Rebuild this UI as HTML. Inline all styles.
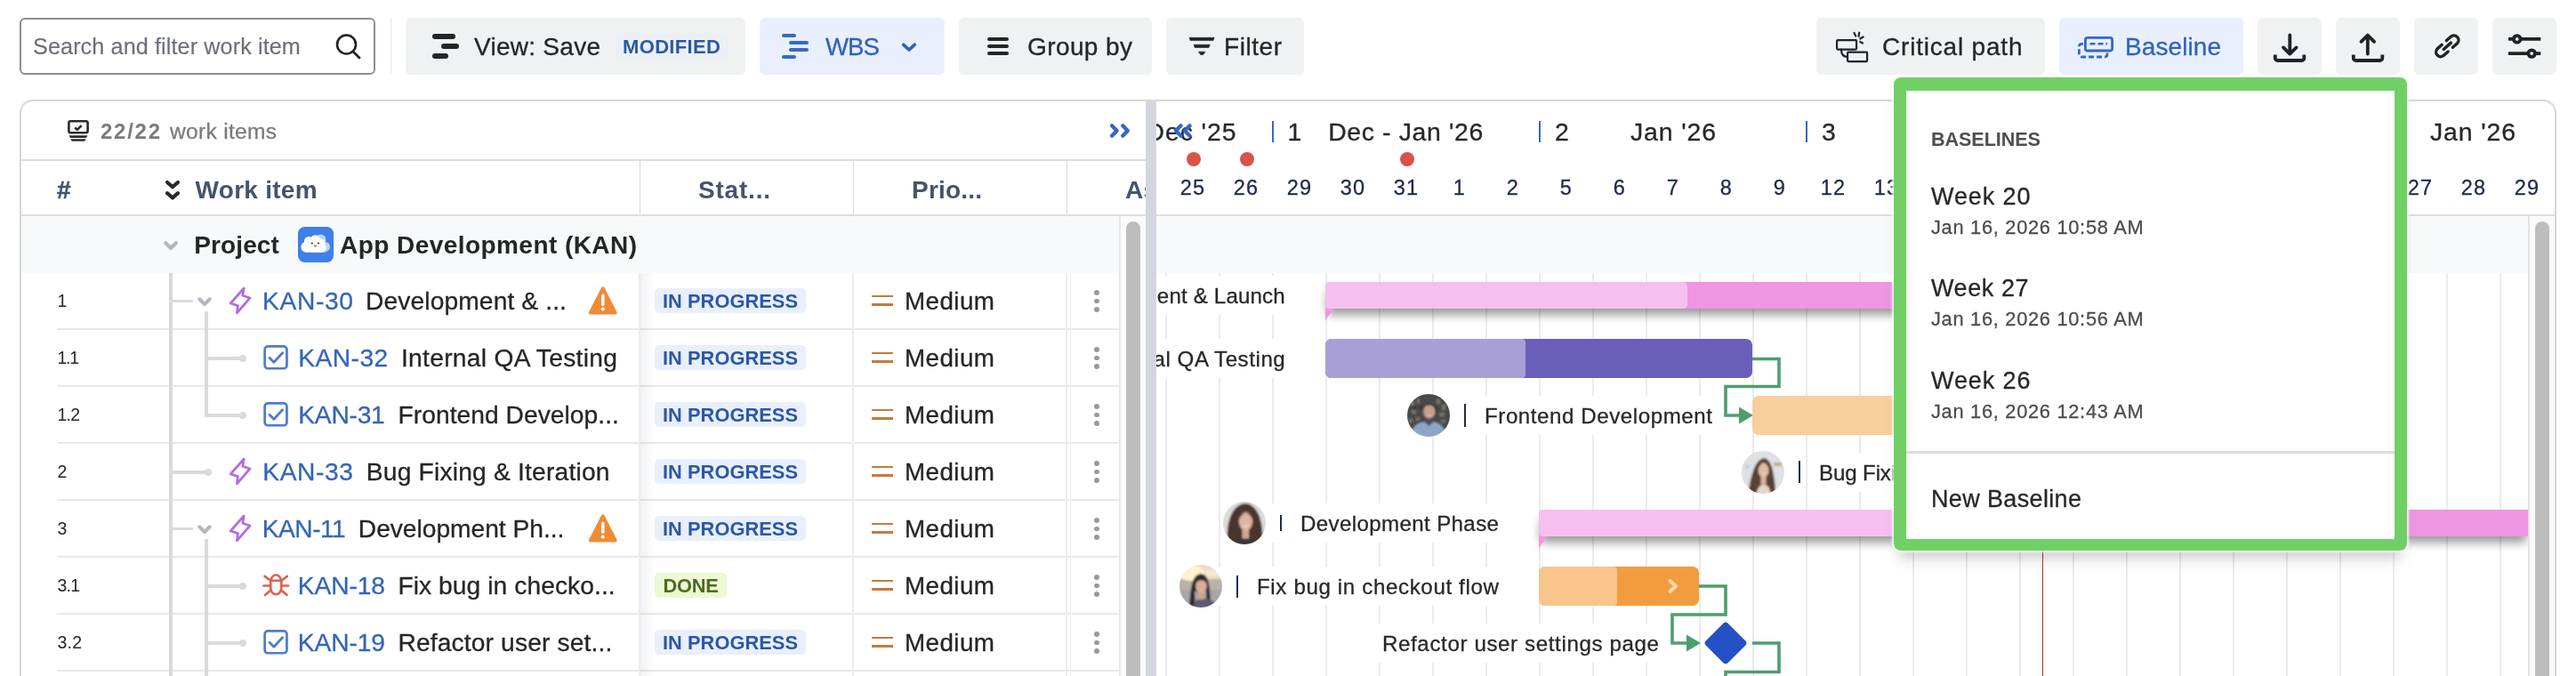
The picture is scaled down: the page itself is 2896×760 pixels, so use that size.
<!DOCTYPE html>
<html><head><meta charset="utf-8"><title>Gantt</title>
<style>
html,body{margin:0;padding:0;background:#fff;}
body{width:2896px;height:760px;overflow:hidden;position:relative;font-family:"Liberation Sans",sans-serif;}
.t{position:absolute;white-space:nowrap;line-height:1;-webkit-text-stroke:0.3px currentColor;}
.r{position:absolute;box-sizing:content-box;}
.a{position:absolute;overflow:visible;}
</style></head><body><div id="root" style="position:absolute;left:0;top:0;width:2896px;height:760px;overflow:hidden;will-change:transform;transform:translateZ(0)">
<div class="r" style="left:22px;top:20px;width:396px;height:59.5px;background:#fff;border:2px solid #8a8d94;border-radius:6px;"></div>
<span class="t" style="left:37.00px;top:38px;line-height:28px;font-size:25.2px;color:#6d7078;letter-spacing:0.103px;-webkit-text-stroke:0.15px #6d7078;">Search and filter work item</span>
<svg class="a" style="left:372px;top:34px" width="40" height="36" viewBox="0 0 40 36"><circle cx="17.5" cy="16" r="10.5" fill="none" stroke="#1f2328" stroke-width="2.6"/><path d="M25 24 L32 31" stroke="#1f2328" stroke-width="2.8" stroke-linecap="round"/></svg>
<div class="r" style="left:438.5px;top:20px;width:1.5px;height:64px;background:#e4e5e7;"></div>
<div class="r" style="left:456px;top:20px;width:382px;height:63.5px;background:#eff1f3;border-radius:6px;"></div>
<div class="r" style="left:486px;top:38px;width:26px;height:6px;background:#24262a;border-radius:3px;"></div>
<div class="r" style="left:496px;top:49px;width:20px;height:6px;background:#24262a;border-radius:3px;"></div>
<div class="r" style="left:486px;top:60px;width:18px;height:6px;background:#24262a;border-radius:3px;"></div>
<span class="t" style="left:533.00px;top:37px;line-height:31px;font-size:28px;color:#24262a;letter-spacing:0.272px;">View: Save</span>
<div class="r" style="left:691px;top:38px;width:128px;height:28px;background:#ebf0f8;border-radius:4px;"></div>
<span class="t" style="left:700.00px;top:40px;line-height:25px;font-size:22px;color:#2b57a8;letter-spacing:0.349px;font-weight:bold;-webkit-text-stroke:0;">MODIFIED</span>
<div class="r" style="left:854px;top:20px;width:208px;height:63.5px;background:#e9effc;border-radius:6px;"></div>
<div class="r" style="left:879px;top:38px;width:16px;height:3.9px;background:#3468cb;border-radius:2px;"></div>
<div class="r" style="left:887px;top:46px;width:22px;height:3.9px;background:#3468cb;border-radius:2px;"></div>
<div class="r" style="left:887px;top:54px;width:22px;height:3.9px;background:#3468cb;border-radius:2px;"></div>
<div class="r" style="left:879px;top:62px;width:16px;height:3.9px;background:#3468cb;border-radius:2px;"></div>
<span class="t" style="left:928.00px;top:37px;line-height:31px;font-size:27.6px;color:#2f62c0;letter-spacing:-0.936px;">WBS</span>
<svg class="a" style="left:1010px;top:44px" width="24" height="18" viewBox="0 0 24 18"><path d="M5.8 6.3 L12 12 L18.2 6.3" fill="none" stroke="#2f62c0" stroke-width="3.7" stroke-linecap="round" stroke-linejoin="round"/></svg>
<div class="r" style="left:1078px;top:20px;width:217px;height:63.5px;background:#eff1f3;border-radius:6px;"></div>
<div class="r" style="left:1110px;top:42px;width:24px;height:4.2px;background:#24262a;border-radius:2.1px;"></div>
<div class="r" style="left:1110px;top:50px;width:24px;height:4.2px;background:#24262a;border-radius:2.1px;"></div>
<div class="r" style="left:1110px;top:58px;width:24px;height:4.2px;background:#24262a;border-radius:2.1px;"></div>
<span class="t" style="left:1155.00px;top:37px;line-height:31px;font-size:28px;color:#24262a;letter-spacing:0.405px;">Group by</span>
<div class="r" style="left:1311px;top:20px;width:155px;height:63.5px;background:#eff1f3;border-radius:6px;"></div>
<svg class="a" style="left:1335px;top:40px" width="32" height="24" viewBox="0 0 32 24"><path d="M2 2.300 H30.200 L29 5.600 H3.200 Z M7 10.200 H25.200 L24 13.500 H8.200 Z M12.300 18.200 H20 L17.500 21.600 H14.800 Z" fill="#1f2328" stroke="#1f2328" stroke-width="0.6" stroke-linejoin="round"/></svg>
<span class="t" style="left:1376.00px;top:37px;line-height:31px;font-size:28px;color:#24262a;letter-spacing:0.557px;">Filter</span>
<div class="r" style="left:2042px;top:20px;width:257px;height:63.5px;background:#eff1f3;border-radius:6px;"></div>
<svg class="a" style="left:2060px;top:34px" width="44" height="40" viewBox="0 0 44 40">
<g fill="none" stroke="#1f2328" stroke-width="2.2" stroke-linejoin="round" stroke-linecap="round">
<rect x="5.1" y="11.1" width="22" height="10.5" rx="1"/><rect x="17.1" y="24.6" width="22" height="10.5" rx="1"/>
<path d="M10 21.6 C10 27 12 30 17 30"/>
<path d="M24.5 3 L26.3 6.5 M30.2 2.6 L29.6 6.8 M34.6 7.5 L31.3 9.5 M34 14.5 L31.2 13"/></g></svg>
<span class="t" style="left:2116.00px;top:37px;line-height:31px;font-size:28px;color:#24262a;letter-spacing:0.805px;">Critical path</span>
<div class="r" style="left:2315px;top:20px;width:207px;height:63.5px;background:#e9effc;border-radius:6px;"></div>
<svg class="a" style="left:2330px;top:34px" width="52" height="40" viewBox="0 0 52 40">
<g fill="none" stroke="#3367cf" stroke-width="2.8" stroke-linejoin="round">
<rect x="14.400" y="8.400" width="30.200" height="14.600" rx="2.600"/>
<path d="M39 25.500 v1.500 a3 3 0 0 1 -3 3 H10.400 a3 3 0 0 1 -3 -3 V18.400 a3 3 0 0 1 3 -3 h4" stroke-dasharray="6 3"/>
<path d="M19.500 15.200 H39" stroke-dasharray="6 3" stroke-width="2.4"/></g></svg>
<span class="t" style="left:2389.00px;top:37px;line-height:31px;font-size:28px;color:#2f62c0;letter-spacing:0.085px;">Baseline</span>
<div class="r" style="left:2538px;top:20px;width:72px;height:63.5px;background:#eff1f3;border-radius:6px;"></div>
<div class="r" style="left:2626px;top:20px;width:72px;height:63.5px;background:#eff1f3;border-radius:6px;"></div>
<div class="r" style="left:2714px;top:20px;width:72px;height:63.5px;background:#eff1f3;border-radius:6px;"></div>
<div class="r" style="left:2802px;top:20px;width:72px;height:63.5px;background:#eff1f3;border-radius:6px;"></div>
<svg class="a" style="left:2538px;top:20px" width="72" height="64" viewBox="0 0 72 64"><g fill="none" stroke="#1f2328" stroke-width="3.8" stroke-linecap="round" stroke-linejoin="round">
<path d="M36.300 19.500 V40.500 M29 33.400 L36.300 40.600 L43.600 33.400"/><path d="M19.800 41.500 V45.400 a2.600 2.600 0 0 0 2.600 2.600 H49.700 a2.600 2.600 0 0 0 2.600 -2.600 V41.500" stroke-linecap="butt"/></g></svg>
<svg class="a" style="left:2626px;top:20px" width="72" height="64" viewBox="0 0 72 64"><g fill="none" stroke="#1f2328" stroke-width="3.8" stroke-linecap="round" stroke-linejoin="round">
<path d="M35.800 40.500 V20 M28.500 26.800 L35.800 19.600 L43.100 26.800"/><path d="M19.800 41.500 V45.400 a2.600 2.600 0 0 0 2.600 2.600 H49.700 a2.600 2.600 0 0 0 2.600 -2.600 V41.500" stroke-linecap="butt"/></g></svg>
<svg class="a" style="left:2714px;top:20px" width="72" height="64" viewBox="0 0 72 64"><g fill="none" stroke="#1f2328" stroke-width="3.400" stroke-linecap="round" stroke-linejoin="round" transform="translate(37.300 31.800) rotate(-42)">
<path d="M-3.500 -5.200 H-10 a5.200 5.200 0 0 0 0 10.400 H-3.500 M3.500 -5.200 H10 a5.200 5.200 0 0 1 0 10.400 H3.500 M-5.500 0 H5.500"/></g></svg>
<svg class="a" style="left:2802px;top:20px" width="72" height="64" viewBox="0 0 72 64"><g fill="none" stroke="#1f2328" stroke-width="3.800">
<path d="M18 23.900 H54.300 M18 40.100 H54.300"/><circle cx="27.700" cy="23.900" r="3.800" fill="#eff1f3"/><circle cx="44.200" cy="40.100" r="3.800" fill="#eff1f3"/></g></svg>
<div class="r" style="left:22px;top:112px;width:2848px;height:700px;border:2px solid #d8d8d8;border-radius:15px;background:#fff;box-shadow:0 0 2px rgba(0,0,0,0.08)"></div>
<div class="r" style="left:24px;top:179px;width:1264px;height:2px;background:#dedede;"></div>
<div class="r" style="left:24px;top:241px;width:2848px;height:2px;background:#dedede;"></div>
<div class="r" style="left:24px;top:243px;width:2848px;height:64px;background:#f7f9fa;"></div>
<svg class="a" style="left:74px;top:132px" width="30" height="30" viewBox="0 0 30 30"><g fill="none" stroke="#2a2b2f" stroke-width="2.600" stroke-linejoin="round">
<rect x="3.400" y="4.300" width="21.200" height="12.900" rx="2"/><path d="M10.300 11.400 L12.700 13.900 L17.700 9.100" stroke-width="2.700"/></g>
<path d="M3.600 20.300 H24.400 L23.200 22.600 Q23 22.900 22.600 22.900 H5.400 Q5 22.900 4.800 22.600 Z M5.400 24.300 H22.600 L21.400 26.500 Q21.200 26.800 20.800 26.800 H7.200 Q6.800 26.800 6.600 26.500 Z" fill="#2a2b2f"/></svg>
<span class="t" style="left:113.00px;top:134px;line-height:27px;font-size:24px;color:#7b7b7b;letter-spacing:1.738px;font-weight:bold;-webkit-text-stroke:0;">22/22</span>
<span class="t" style="left:191.05px;top:134px;line-height:27px;font-size:24.6px;color:#7b7b7b;letter-spacing:0.268px;">work items</span>
<svg class="a" style="left:1244px;top:135px" width="30" height="24" viewBox="1244 135 30 24"><path d="M1250 141.200 L1255.600 147 L1250 152.800 M1262.200 141.200 L1267.800 147 L1262.200 152.800" fill="none" stroke="#3366cc" stroke-width="4.300" stroke-linecap="round" stroke-linejoin="round"/></svg>
<span class="t" style="left:64.00px;top:198px;line-height:31px;font-size:28px;color:#44546f;letter-spacing:0.000px;font-weight:bold;-webkit-text-stroke:0;-webkit-text-stroke:0.5px #44546f;">#</span>
<svg class="a" style="left:182px;top:200px" width="24" height="28" viewBox="0 0 24 28"><path d="M6 5 L12 10.2 L18 5 M6 17.2 L12 22.4 L18 17.2" fill="none" stroke="#292a2e" stroke-width="4.2" stroke-linecap="round" stroke-linejoin="round"/></svg>
<span class="t" style="left:219.60px;top:198px;line-height:31px;font-size:28px;color:#44546f;letter-spacing:0.269px;font-weight:bold;-webkit-text-stroke:0;">Work item</span>
<span class="t" style="left:785.00px;top:198px;line-height:31px;font-size:28px;color:#44546f;letter-spacing:0.793px;font-weight:bold;-webkit-text-stroke:0;">Stat...</span>
<span class="t" style="left:1025.00px;top:198px;line-height:31px;font-size:28px;color:#44546f;letter-spacing:0.203px;font-weight:bold;-webkit-text-stroke:0;">Prio...</span>
<div class="r" style="left:1200px;top:181px;width:88px;height:60px;overflow:hidden">
<span class="t" style="left:65.00px;top:17px;line-height:31px;font-size:28px;color:#44546f;letter-spacing:0.000px;font-weight:bold;-webkit-text-stroke:0;letter-spacing:0.4px;">As</span>
</div>
<div class="r" style="left:718.5px;top:181px;width:1.6px;height:60px;background:#dadada;"></div>
<div class="r" style="left:958.5px;top:181px;width:1.6px;height:60px;background:#dadada;"></div>
<div class="r" style="left:1198.5px;top:181px;width:1.6px;height:60px;background:#dadada;"></div>
<div class="r" style="left:64px;top:369px;width:1194.3px;height:1.6px;background:#e9e9e9;"></div>
<div class="r" style="left:64px;top:433px;width:1194.3px;height:1.6px;background:#e9e9e9;"></div>
<div class="r" style="left:64px;top:497px;width:1194.3px;height:1.6px;background:#e9e9e9;"></div>
<div class="r" style="left:64px;top:561px;width:1194.3px;height:1.6px;background:#e9e9e9;"></div>
<div class="r" style="left:64px;top:625px;width:1194.3px;height:1.6px;background:#e9e9e9;"></div>
<div class="r" style="left:64px;top:689px;width:1194.3px;height:1.6px;background:#e9e9e9;"></div>
<div class="r" style="left:64px;top:753px;width:1194.3px;height:1.6px;background:#e9e9e9;"></div>
<div class="r" style="left:718px;top:307px;width:1.5px;height:460px;background:#ececec;"></div>
<div class="r" style="left:958.2px;top:307px;width:1.5px;height:460px;background:#ececec;"></div>
<div class="r" style="left:1198.2px;top:307px;width:1.5px;height:460px;background:#ececec;"></div>
<div class="r" style="left:1202.8px;top:307px;width:1.5px;height:460px;background:#ececec;"></div>
<div class="r" style="left:719.5px;top:307px;width:17px;height:460px;background:linear-gradient(90deg,rgba(9,30,66,0.055),rgba(9,30,66,0))"></div>
<svg class="a" style="left:180px;top:266px" width="24" height="20" viewBox="0 0 24 20"><path d="M6.2 7.3 L12 13 L17.8 7.3" fill="none" stroke="#b3b6bf" stroke-width="4.2" stroke-linecap="round" stroke-linejoin="round"/></svg>
<span class="t" style="left:218.20px;top:260px;line-height:31px;font-size:28px;color:#24262a;letter-spacing:0.130px;font-weight:bold;-webkit-text-stroke:0;">Project</span>
<svg class="a" style="left:335px;top:255px" width="40" height="40" viewBox="0 0 40 40"><rect width="40" height="40" rx="7.5" fill="#3f7fea"/>
<g fill="#bcd3f8"><circle cx="25.5" cy="14.5" r="6"/><circle cx="30.5" cy="22.5" r="5.5"/><rect x="20" y="20" width="11" height="8.8" /></g>
<g fill="#fff"><circle cx="12" cy="16" r="5"/><circle cx="19.5" cy="14.800" r="5.6"/><circle cx="26" cy="17.500" r="4.300"/><circle cx="9.300" cy="22.800" r="6"/><circle cx="26" cy="23" r="5.800"/><rect x="9" y="17" width="17.500" height="11.800"/></g>
<circle cx="15.800" cy="18.500" r="0.950" fill="#222"/><circle cx="23" cy="18.500" r="0.950" fill="#222"/><path d="M17.600 20.700 q1.800 -0.800 3.600 0 q-0.300 2 -1.800 2 q-1.500 0 -1.800 -2z" fill="#e5686b"/></svg>
<span class="t" style="left:382.00px;top:260px;line-height:31px;font-size:28px;color:#24262a;letter-spacing:0.445px;font-weight:bold;-webkit-text-stroke:0;">App Development (KAN)</span>
<div class="r" style="left:190px;top:307px;width:3.6px;height:460px;background:#dadada;"></div>
<div class="r" style="left:230px;top:350px;width:3.6px;height:116px;background:#dadada;"></div>
<div class="r" style="left:230px;top:606px;width:3.6px;height:160px;background:#dadada;"></div>
<div class="r" style="left:190px;top:336.8px;width:27px;height:3.4px;background:#dadada;"></div>
<div class="r" style="left:230px;top:401.3px;width:43px;height:3.4px;background:#dadada;"></div>
<div class="r" style="left:269px;top:399px;width:8px;height:8px;background:#dadada;border-radius:4px;"></div>
<div class="r" style="left:230px;top:465.3px;width:43px;height:3.4px;background:#dadada;"></div>
<div class="r" style="left:269px;top:463px;width:8px;height:8px;background:#dadada;border-radius:4px;"></div>
<div class="r" style="left:190px;top:529.3px;width:44px;height:3.4px;background:#dadada;"></div>
<div class="r" style="left:230px;top:527px;width:8px;height:8px;background:#dadada;border-radius:4px;"></div>
<div class="r" style="left:190px;top:592.8px;width:27px;height:3.4px;background:#dadada;"></div>
<div class="r" style="left:230px;top:657.3px;width:43px;height:3.4px;background:#dadada;"></div>
<div class="r" style="left:269px;top:655px;width:8px;height:8px;background:#dadada;border-radius:4px;"></div>
<div class="r" style="left:230px;top:721.3px;width:43px;height:3.4px;background:#dadada;"></div>
<div class="r" style="left:269px;top:719px;width:8px;height:8px;background:#dadada;border-radius:4px;"></div>
<svg class="a" style="left:218px;top:328.5px" width="24" height="20" viewBox="0 0 24 20"><path d="M6.2 7.3 L12 13 L17.8 7.3" fill="none" stroke="#b3b6bf" stroke-width="4" stroke-linecap="round" stroke-linejoin="round"/></svg>
<svg class="a" style="left:218px;top:584.5px" width="24" height="20" viewBox="0 0 24 20"><path d="M6.2 7.3 L12 13 L17.8 7.3" fill="none" stroke="#b3b6bf" stroke-width="4" stroke-linecap="round" stroke-linejoin="round"/></svg>
<span class="t" style="left:64.50px;top:327px;line-height:22px;font-size:19.5px;color:#24262a;letter-spacing:0.000px;-webkit-text-stroke:0;">1</span>
<svg class="a" style="left:255px;top:320px" width="30" height="36" viewBox="0 0 30 36"><path d="M19.2 4 L4.2 21 L12.4 23.6 L11.4 31.8 L26 15 L17.8 12.3 Z" fill="none" stroke="#b26be6" stroke-width="2.7" stroke-linejoin="round"/></svg>
<span class="t" style="left:295.00px;top:322px;line-height:32px;font-size:28.2px;color:#3465b8;letter-spacing:0.649px;">KAN-30</span>
<span class="t" style="left:411.00px;top:322px;line-height:32px;font-size:28.2px;color:#24262a;letter-spacing:0.117px;">Development &amp; ...</span>
<svg class="a" style="left:660px;top:320px" width="36" height="36" viewBox="0 0 36 36"><path d="M17.8 4.3 L31.7 31.6 H3.800 Z" fill="#ee8c35" stroke="#ee8c35" stroke-width="4" stroke-linejoin="round"/><rect x="16.1" y="10.6" width="3.4" height="13.4" rx="1.7" fill="#fff"/><circle cx="17.8" cy="27.5" r="2.1" fill="#fff"/></svg>
<div class="r" style="left:736px;top:324px;width:170px;height:27.6px;background:#e9effb;border-radius:5px;"></div>
<span class="t" style="left:745.00px;top:326px;line-height:25px;font-size:21.8px;color:#2b57a8;letter-spacing:0.058px;font-weight:bold;-webkit-text-stroke:0;">IN PROGRESS</span>
<div class="r" style="left:980px;top:331.7px;width:24px;height:2.8px;background:#c8793a;"></div>
<div class="r" style="left:980px;top:341.1px;width:24px;height:2.8px;background:#c8793a;"></div>
<span class="t" style="left:1017.00px;top:323px;line-height:31px;font-size:27.8px;color:#24262a;letter-spacing:0.423px;">Medium</span>
<div class="r" style="left:1230.2px;top:326.1px;width:5.8px;height:5.8px;background:#96999f;border-radius:3px;"></div>
<div class="r" style="left:1230.2px;top:335.6px;width:5.8px;height:5.8px;background:#96999f;border-radius:3px;"></div>
<div class="r" style="left:1230.2px;top:345.1px;width:5.8px;height:5.8px;background:#96999f;border-radius:3px;"></div>
<span class="t" style="left:64.50px;top:391px;line-height:22px;font-size:19.5px;color:#24262a;letter-spacing:-1.253px;-webkit-text-stroke:0;">1.1</span>
<svg class="a" style="left:295px;top:388px" width="30" height="30" viewBox="0 0 30 30"><rect x="2.65" y="1.45" width="24.8" height="24.8" rx="3.6" fill="none" stroke="#4c7bd1" stroke-width="2.7"/><path d="M8 14.3 L12.9 19.3 L22.6 8.8" fill="none" stroke="#4c7bd1" stroke-width="2.8" stroke-linecap="round" stroke-linejoin="round"/></svg>
<span class="t" style="left:335.30px;top:386px;line-height:32px;font-size:28.2px;color:#3465b8;letter-spacing:0.449px;">KAN-32</span>
<span class="t" style="left:451.00px;top:386px;line-height:32px;font-size:28.2px;color:#24262a;letter-spacing:0.291px;">Internal QA Testing</span>
<div class="r" style="left:736px;top:388px;width:170px;height:27.6px;background:#e9effb;border-radius:5px;"></div>
<span class="t" style="left:745.00px;top:390px;line-height:25px;font-size:21.8px;color:#2b57a8;letter-spacing:0.058px;font-weight:bold;-webkit-text-stroke:0;">IN PROGRESS</span>
<div class="r" style="left:980px;top:395.7px;width:24px;height:2.8px;background:#c8793a;"></div>
<div class="r" style="left:980px;top:405.1px;width:24px;height:2.8px;background:#c8793a;"></div>
<span class="t" style="left:1017.00px;top:387px;line-height:31px;font-size:27.8px;color:#24262a;letter-spacing:0.423px;">Medium</span>
<div class="r" style="left:1230.2px;top:390.1px;width:5.8px;height:5.8px;background:#96999f;border-radius:3px;"></div>
<div class="r" style="left:1230.2px;top:399.6px;width:5.8px;height:5.8px;background:#96999f;border-radius:3px;"></div>
<div class="r" style="left:1230.2px;top:409.1px;width:5.8px;height:5.8px;background:#96999f;border-radius:3px;"></div>
<span class="t" style="left:64.50px;top:455px;line-height:22px;font-size:19.5px;color:#24262a;letter-spacing:-0.802px;-webkit-text-stroke:0;">1.2</span>
<svg class="a" style="left:295px;top:452px" width="30" height="30" viewBox="0 0 30 30"><rect x="2.65" y="1.45" width="24.8" height="24.8" rx="3.6" fill="none" stroke="#4c7bd1" stroke-width="2.7"/><path d="M8 14.3 L12.9 19.3 L22.6 8.8" fill="none" stroke="#4c7bd1" stroke-width="2.8" stroke-linecap="round" stroke-linejoin="round"/></svg>
<span class="t" style="left:335.30px;top:450px;line-height:32px;font-size:28.2px;color:#3465b8;letter-spacing:-0.251px;">KAN-31</span>
<span class="t" style="left:447.50px;top:450px;line-height:32px;font-size:28.2px;color:#24262a;letter-spacing:0.046px;">Frontend Develop...</span>
<div class="r" style="left:736px;top:452px;width:170px;height:27.6px;background:#e9effb;border-radius:5px;"></div>
<span class="t" style="left:745.00px;top:454px;line-height:25px;font-size:21.8px;color:#2b57a8;letter-spacing:0.058px;font-weight:bold;-webkit-text-stroke:0;">IN PROGRESS</span>
<div class="r" style="left:980px;top:459.7px;width:24px;height:2.8px;background:#c8793a;"></div>
<div class="r" style="left:980px;top:469.1px;width:24px;height:2.8px;background:#c8793a;"></div>
<span class="t" style="left:1017.00px;top:451px;line-height:31px;font-size:27.8px;color:#24262a;letter-spacing:0.423px;">Medium</span>
<div class="r" style="left:1230.2px;top:454.1px;width:5.8px;height:5.8px;background:#96999f;border-radius:3px;"></div>
<div class="r" style="left:1230.2px;top:463.6px;width:5.8px;height:5.8px;background:#96999f;border-radius:3px;"></div>
<div class="r" style="left:1230.2px;top:473.1px;width:5.8px;height:5.8px;background:#96999f;border-radius:3px;"></div>
<span class="t" style="left:64.50px;top:519px;line-height:22px;font-size:19.5px;color:#24262a;letter-spacing:0.000px;-webkit-text-stroke:0;">2</span>
<svg class="a" style="left:255px;top:512px" width="30" height="36" viewBox="0 0 30 36"><path d="M19.2 4 L4.2 21 L12.4 23.6 L11.4 31.8 L26 15 L17.8 12.3 Z" fill="none" stroke="#b26be6" stroke-width="2.7" stroke-linejoin="round"/></svg>
<span class="t" style="left:295.30px;top:514px;line-height:32px;font-size:28.2px;color:#3465b8;letter-spacing:0.589px;">KAN-33</span>
<span class="t" style="left:411.80px;top:514px;line-height:32px;font-size:28.2px;color:#24262a;letter-spacing:0.199px;">Bug Fixing &amp; Iteration</span>
<div class="r" style="left:736px;top:516px;width:170px;height:27.6px;background:#e9effb;border-radius:5px;"></div>
<span class="t" style="left:745.00px;top:518px;line-height:25px;font-size:21.8px;color:#2b57a8;letter-spacing:0.058px;font-weight:bold;-webkit-text-stroke:0;">IN PROGRESS</span>
<div class="r" style="left:980px;top:523.7px;width:24px;height:2.8px;background:#c8793a;"></div>
<div class="r" style="left:980px;top:533.1px;width:24px;height:2.8px;background:#c8793a;"></div>
<span class="t" style="left:1017.00px;top:515px;line-height:31px;font-size:27.8px;color:#24262a;letter-spacing:0.423px;">Medium</span>
<div class="r" style="left:1230.2px;top:518.1px;width:5.8px;height:5.8px;background:#96999f;border-radius:3px;"></div>
<div class="r" style="left:1230.2px;top:527.6px;width:5.8px;height:5.8px;background:#96999f;border-radius:3px;"></div>
<div class="r" style="left:1230.2px;top:537.1px;width:5.8px;height:5.8px;background:#96999f;border-radius:3px;"></div>
<span class="t" style="left:64.50px;top:583px;line-height:22px;font-size:19.5px;color:#24262a;letter-spacing:0.000px;-webkit-text-stroke:0;">3</span>
<svg class="a" style="left:255px;top:576px" width="30" height="36" viewBox="0 0 30 36"><path d="M19.2 4 L4.2 21 L12.4 23.6 L11.4 31.8 L26 15 L17.8 12.3 Z" fill="none" stroke="#b26be6" stroke-width="2.7" stroke-linejoin="round"/></svg>
<span class="t" style="left:294.80px;top:578px;line-height:32px;font-size:28.2px;color:#3465b8;letter-spacing:-0.528px;">KAN-11</span>
<span class="t" style="left:402.80px;top:578px;line-height:32px;font-size:28.2px;color:#24262a;letter-spacing:-0.019px;">Development Ph...</span>
<svg class="a" style="left:660px;top:576px" width="36" height="36" viewBox="0 0 36 36"><path d="M17.8 4.3 L31.7 31.6 H3.800 Z" fill="#ee8c35" stroke="#ee8c35" stroke-width="4" stroke-linejoin="round"/><rect x="16.1" y="10.6" width="3.4" height="13.4" rx="1.7" fill="#fff"/><circle cx="17.8" cy="27.5" r="2.1" fill="#fff"/></svg>
<div class="r" style="left:736px;top:580px;width:170px;height:27.6px;background:#e9effb;border-radius:5px;"></div>
<span class="t" style="left:745.00px;top:582px;line-height:25px;font-size:21.8px;color:#2b57a8;letter-spacing:0.058px;font-weight:bold;-webkit-text-stroke:0;">IN PROGRESS</span>
<div class="r" style="left:980px;top:587.7px;width:24px;height:2.8px;background:#c8793a;"></div>
<div class="r" style="left:980px;top:597.1px;width:24px;height:2.8px;background:#c8793a;"></div>
<span class="t" style="left:1017.00px;top:579px;line-height:31px;font-size:27.8px;color:#24262a;letter-spacing:0.423px;">Medium</span>
<div class="r" style="left:1230.2px;top:582.1px;width:5.8px;height:5.8px;background:#96999f;border-radius:3px;"></div>
<div class="r" style="left:1230.2px;top:591.6px;width:5.8px;height:5.8px;background:#96999f;border-radius:3px;"></div>
<div class="r" style="left:1230.2px;top:601.1px;width:5.8px;height:5.8px;background:#96999f;border-radius:3px;"></div>
<span class="t" style="left:64.50px;top:647px;line-height:22px;font-size:19.5px;color:#24262a;letter-spacing:-0.802px;-webkit-text-stroke:0;">3.1</span>
<svg class="a" style="left:294px;top:643px" width="34" height="32" viewBox="0 0 34 32"><g fill="none" stroke="#d9634f" stroke-width="2.6" stroke-linecap="round" stroke-linejoin="round">
<path d="M10.2 11.5 a6.05 8.2 0 0 1 12.1 0 v6.5 a6.05 7.2 0 0 1 -12.1 0 z"/><path d="M10.3 9.7 H22.2"/>
<path d="M10.3 10 L3.6 4.9 M22.2 10 L28.9 4.9 M10 15.5 H2.4 M22.5 15.5 H30.1 M10.6 20.3 L4 26 M21.9 20.3 L28.5 26"/></g></svg>
<span class="t" style="left:334.80px;top:642px;line-height:32px;font-size:28.2px;color:#3465b8;letter-spacing:-0.111px;">KAN-18</span>
<span class="t" style="left:447.40px;top:642px;line-height:32px;font-size:28.2px;color:#24262a;letter-spacing:0.077px;">Fix bug in checko...</span>
<div class="r" style="left:736px;top:644px;width:81px;height:27.6px;background:#edf8d5;border-radius:5px;"></div>
<span class="t" style="left:745.60px;top:646px;line-height:25px;font-size:21.8px;color:#4c6b1f;letter-spacing:-0.260px;font-weight:bold;-webkit-text-stroke:0;">DONE</span>
<div class="r" style="left:980px;top:651.7px;width:24px;height:2.8px;background:#c8793a;"></div>
<div class="r" style="left:980px;top:661.1px;width:24px;height:2.8px;background:#c8793a;"></div>
<span class="t" style="left:1017.00px;top:643px;line-height:31px;font-size:27.8px;color:#24262a;letter-spacing:0.423px;">Medium</span>
<div class="r" style="left:1230.2px;top:646.1px;width:5.8px;height:5.8px;background:#96999f;border-radius:3px;"></div>
<div class="r" style="left:1230.2px;top:655.6px;width:5.8px;height:5.8px;background:#96999f;border-radius:3px;"></div>
<div class="r" style="left:1230.2px;top:665.1px;width:5.8px;height:5.8px;background:#96999f;border-radius:3px;"></div>
<span class="t" style="left:64.50px;top:711px;line-height:22px;font-size:19.5px;color:#24262a;letter-spacing:0.198px;-webkit-text-stroke:0;">3.2</span>
<svg class="a" style="left:295px;top:708px" width="30" height="30" viewBox="0 0 30 30"><rect x="2.65" y="1.45" width="24.8" height="24.8" rx="3.6" fill="none" stroke="#4c7bd1" stroke-width="2.7"/><path d="M8 14.3 L12.9 19.3 L22.6 8.8" fill="none" stroke="#4c7bd1" stroke-width="2.8" stroke-linecap="round" stroke-linejoin="round"/></svg>
<span class="t" style="left:334.80px;top:706px;line-height:32px;font-size:28.2px;color:#3465b8;letter-spacing:-0.111px;">KAN-19</span>
<span class="t" style="left:447.40px;top:706px;line-height:32px;font-size:28.2px;color:#24262a;letter-spacing:0.151px;">Refactor user set...</span>
<div class="r" style="left:736px;top:708px;width:170px;height:27.6px;background:#e9effb;border-radius:5px;"></div>
<span class="t" style="left:745.00px;top:710px;line-height:25px;font-size:21.8px;color:#2b57a8;letter-spacing:0.058px;font-weight:bold;-webkit-text-stroke:0;">IN PROGRESS</span>
<div class="r" style="left:980px;top:715.7px;width:24px;height:2.8px;background:#c8793a;"></div>
<div class="r" style="left:980px;top:725.1px;width:24px;height:2.8px;background:#c8793a;"></div>
<span class="t" style="left:1017.00px;top:707px;line-height:31px;font-size:27.8px;color:#24262a;letter-spacing:0.423px;">Medium</span>
<div class="r" style="left:1230.2px;top:710.1px;width:5.8px;height:5.8px;background:#96999f;border-radius:3px;"></div>
<div class="r" style="left:1230.2px;top:719.6px;width:5.8px;height:5.8px;background:#96999f;border-radius:3px;"></div>
<div class="r" style="left:1230.2px;top:729.1px;width:5.8px;height:5.8px;background:#96999f;border-radius:3px;"></div>
<div class="r" style="left:1258.3px;top:243px;width:1.5px;height:530px;background:#e6e6e6;"></div>
<div class="r" style="left:1259.8px;top:243px;width:28.2px;height:530px;background:#fafafa;"></div>
<div class="r" style="left:1266.3px;top:249px;width:15.8px;height:530px;background:#bdbdbd;border-radius:8px;"></div>
<div class="r" style="left:1288px;top:114px;width:12px;height:660px;background:#d4d6df;"></div>
<div class="r" style="left:1300px;top:114px;width:1572px;height:660px;overflow:hidden"><div class="r" style="left:-1300px;top:-114px;width:2896px;height:760px">
<span class="t" style="left:1288.50px;top:132px;line-height:32px;font-size:28.4px;color:#26282c;letter-spacing:0.934px;">Dec '25</span>
<div class="r" style="left:1430px;top:136px;width:2px;height:24px;background:#3367cf;"></div>
<span class="t" style="left:1447.60px;top:132px;line-height:32px;font-size:28.4px;color:#26282c;letter-spacing:0.000px;">1</span>
<span class="t" style="left:1493.20px;top:132px;line-height:32px;font-size:28.4px;color:#26282c;letter-spacing:0.640px;">Dec - Jan '26</span>
<div class="r" style="left:1730px;top:136px;width:2px;height:24px;background:#3367cf;"></div>
<span class="t" style="left:1748.00px;top:132px;line-height:32px;font-size:28.4px;color:#26282c;letter-spacing:0.000px;">2</span>
<span class="t" style="left:1833.00px;top:132px;line-height:32px;font-size:28.4px;color:#26282c;letter-spacing:0.886px;">Jan '26</span>
<div class="r" style="left:2030px;top:136px;width:2px;height:24px;background:#3367cf;"></div>
<span class="t" style="left:2048.00px;top:132px;line-height:32px;font-size:28.4px;color:#26282c;letter-spacing:0.000px;">3</span>
<span class="t" style="left:2732.00px;top:132px;line-height:32px;font-size:28.4px;color:#26282c;letter-spacing:0.886px;">Jan '26</span>
<svg class="a" style="left:1315px;top:135px" width="30" height="24" viewBox="1315 135 30 24"><path d="M1327.500 141.200 L1321.900 147 L1327.500 152.800 M1337.600 141.200 L1332 147 L1337.600 152.800" fill="none" stroke="#3366cc" stroke-width="4.300" stroke-linecap="round" stroke-linejoin="round"/></svg>
<div class="r" style="left:1334px;top:171px;width:16px;height:16px;background:#d9534a;border-radius:8px;"></div>
<div class="r" style="left:1394px;top:171px;width:16px;height:16px;background:#d9534a;border-radius:8px;"></div>
<div class="r" style="left:1574px;top:171px;width:16px;height:16px;background:#d9534a;border-radius:8px;"></div>
<span class="t" style="left:1326.63px;top:198px;line-height:26px;font-size:23.5px;color:#1d2a4d;letter-spacing:1.200px;">25</span>
<span class="t" style="left:1386.63px;top:198px;line-height:26px;font-size:23.5px;color:#1d2a4d;letter-spacing:1.200px;">26</span>
<span class="t" style="left:1446.63px;top:198px;line-height:26px;font-size:23.5px;color:#1d2a4d;letter-spacing:1.200px;">29</span>
<span class="t" style="left:1506.63px;top:198px;line-height:26px;font-size:23.5px;color:#1d2a4d;letter-spacing:1.200px;">30</span>
<span class="t" style="left:1566.63px;top:198px;line-height:26px;font-size:23.5px;color:#1d2a4d;letter-spacing:1.200px;">31</span>
<span class="t" style="left:1633.77px;top:198px;line-height:26px;font-size:23.5px;color:#1d2a4d;letter-spacing:0.000px;">1</span>
<span class="t" style="left:1693.77px;top:198px;line-height:26px;font-size:23.5px;color:#1d2a4d;letter-spacing:0.000px;">2</span>
<span class="t" style="left:1753.77px;top:198px;line-height:26px;font-size:23.5px;color:#1d2a4d;letter-spacing:0.000px;">5</span>
<span class="t" style="left:1813.77px;top:198px;line-height:26px;font-size:23.5px;color:#1d2a4d;letter-spacing:0.000px;">6</span>
<span class="t" style="left:1873.77px;top:198px;line-height:26px;font-size:23.5px;color:#1d2a4d;letter-spacing:0.000px;">7</span>
<span class="t" style="left:1933.77px;top:198px;line-height:26px;font-size:23.5px;color:#1d2a4d;letter-spacing:0.000px;">8</span>
<span class="t" style="left:1993.77px;top:198px;line-height:26px;font-size:23.5px;color:#1d2a4d;letter-spacing:0.000px;">9</span>
<span class="t" style="left:2046.63px;top:198px;line-height:26px;font-size:23.5px;color:#1d2a4d;letter-spacing:1.200px;">12</span>
<span class="t" style="left:2106.63px;top:198px;line-height:26px;font-size:23.5px;color:#1d2a4d;letter-spacing:1.200px;">13</span>
<span class="t" style="left:2166.63px;top:198px;line-height:26px;font-size:23.5px;color:#1d2a4d;letter-spacing:1.200px;">14</span>
<span class="t" style="left:2226.63px;top:198px;line-height:26px;font-size:23.5px;color:#1d2a4d;letter-spacing:1.200px;">15</span>
<span class="t" style="left:2286.63px;top:198px;line-height:26px;font-size:23.5px;color:#1d2a4d;letter-spacing:1.200px;">16</span>
<span class="t" style="left:2346.63px;top:198px;line-height:26px;font-size:23.5px;color:#1d2a4d;letter-spacing:1.200px;">19</span>
<span class="t" style="left:2406.63px;top:198px;line-height:26px;font-size:23.5px;color:#1d2a4d;letter-spacing:1.200px;">20</span>
<span class="t" style="left:2466.63px;top:198px;line-height:26px;font-size:23.5px;color:#1d2a4d;letter-spacing:1.200px;">21</span>
<span class="t" style="left:2526.63px;top:198px;line-height:26px;font-size:23.5px;color:#1d2a4d;letter-spacing:1.200px;">22</span>
<span class="t" style="left:2586.63px;top:198px;line-height:26px;font-size:23.5px;color:#1d2a4d;letter-spacing:1.200px;">23</span>
<span class="t" style="left:2646.63px;top:198px;line-height:26px;font-size:23.5px;color:#1d2a4d;letter-spacing:1.200px;">26</span>
<span class="t" style="left:2706.63px;top:198px;line-height:26px;font-size:23.5px;color:#1d2a4d;letter-spacing:1.200px;">27</span>
<span class="t" style="left:2766.63px;top:198px;line-height:26px;font-size:23.5px;color:#1d2a4d;letter-spacing:1.200px;">28</span>
<span class="t" style="left:2826.63px;top:198px;line-height:26px;font-size:23.5px;color:#1d2a4d;letter-spacing:1.200px;">29</span>
<div class="r" style="left:1310px;top:307px;width:1.5px;height:470px;background:#ebebeb;"></div>
<div class="r" style="left:1370px;top:307px;width:1.5px;height:470px;background:#ebebeb;"></div>
<div class="r" style="left:1430px;top:307px;width:1.5px;height:470px;background:#ebebeb;"></div>
<div class="r" style="left:1490px;top:307px;width:1.5px;height:470px;background:#ebebeb;"></div>
<div class="r" style="left:1550px;top:307px;width:1.5px;height:470px;background:#ebebeb;"></div>
<div class="r" style="left:1610px;top:307px;width:1.5px;height:470px;background:#ebebeb;"></div>
<div class="r" style="left:1670px;top:307px;width:1.5px;height:470px;background:#ebebeb;"></div>
<div class="r" style="left:1730px;top:307px;width:1.5px;height:470px;background:#ebebeb;"></div>
<div class="r" style="left:1790px;top:307px;width:1.5px;height:470px;background:#ebebeb;"></div>
<div class="r" style="left:1850px;top:307px;width:1.5px;height:470px;background:#ebebeb;"></div>
<div class="r" style="left:1910px;top:307px;width:1.5px;height:470px;background:#ebebeb;"></div>
<div class="r" style="left:1970px;top:307px;width:1.5px;height:470px;background:#ebebeb;"></div>
<div class="r" style="left:2030px;top:307px;width:1.5px;height:470px;background:#ebebeb;"></div>
<div class="r" style="left:2090px;top:307px;width:1.5px;height:470px;background:#ebebeb;"></div>
<div class="r" style="left:2150px;top:307px;width:1.5px;height:470px;background:#ebebeb;"></div>
<div class="r" style="left:2210px;top:307px;width:1.5px;height:470px;background:#ebebeb;"></div>
<div class="r" style="left:2270px;top:307px;width:1.5px;height:470px;background:#ebebeb;"></div>
<div class="r" style="left:2330px;top:307px;width:1.5px;height:470px;background:#ebebeb;"></div>
<div class="r" style="left:2390px;top:307px;width:1.5px;height:470px;background:#ebebeb;"></div>
<div class="r" style="left:2450px;top:307px;width:1.5px;height:470px;background:#ebebeb;"></div>
<div class="r" style="left:2510px;top:307px;width:1.5px;height:470px;background:#ebebeb;"></div>
<div class="r" style="left:2570px;top:307px;width:1.5px;height:470px;background:#ebebeb;"></div>
<div class="r" style="left:2630px;top:307px;width:1.5px;height:470px;background:#ebebeb;"></div>
<div class="r" style="left:2690px;top:307px;width:1.5px;height:470px;background:#ebebeb;"></div>
<div class="r" style="left:2750px;top:307px;width:1.5px;height:470px;background:#ebebeb;"></div>
<div class="r" style="left:2810px;top:307px;width:1.5px;height:470px;background:#ebebeb;"></div>
<div class="r" style="left:2870px;top:307px;width:1.5px;height:470px;background:#ebebeb;"></div>
<div class="r" style="left:2295.5px;top:307px;width:1.6px;height:470px;background:#a33b2a;"></div>
<div class="r" style="left:2842px;top:243px;width:1.5px;height:530px;background:#e3e3e3;"></div>
<div class="r" style="left:2843.5px;top:243px;width:28.5px;height:530px;background:#fafafa;"></div>
<div class="r" style="left:2850px;top:249px;width:16px;height:530px;background:#bdbdbd;border-radius:8px;"></div>
<div class="r" style="left:1300px;top:243px;width:1542px;height:530px;overflow:hidden"><div class="r" style="left:-1300px;top:-243px;width:2896px;height:760px">
<div class="r" style="left:1300px;top:310px;width:188px;height:44px;background:#fff;"></div>
<span class="t" style="left:1191.00px;top:319px;line-height:27px;font-size:24.1px;color:#26282c;letter-spacing:0.171px;">Development &amp; Launch</span>
<div class="r" style="left:1490px;top:317px;width:1150px;height:30px;background:#ee96e2;border-radius:5px;box-shadow:0 9px 11px -2px rgba(0,0,0,0.4);"></div>
<div class="r" style="left:1490px;top:317px;width:407px;height:30px;background:#f5c0ef;border-radius:5px;"></div>
<svg class="a" style="left:1490px;top:347px" width="12" height="16"><path d="M0 0 H9.500 L0 13 Z" fill="#ee96e2"/></svg>
<div class="r" style="left:1300px;top:381px;width:188px;height:44px;background:#fff;"></div>
<span class="t" style="left:1231.50px;top:390px;line-height:27px;font-size:24.1px;color:#26282c;letter-spacing:0.562px;">Internal QA Testing</span>
<div class="r" style="left:1490px;top:381px;width:480px;height:44px;background:#6a5fb8;border-radius:7px;"></div>
<div class="r" style="left:1490px;top:381px;width:225px;height:44px;background:#a79fd6;border-radius:7px 4px 4px 7px;"></div>
<svg class="a" style="left:1930px;top:395px" width="80" height="90" viewBox="1930 395 80 90"><path d="M1970 403.500 H2000 V434.500 H1940 V467 H1958" fill="none" stroke="#4f9d6e" stroke-width="3.600"/><path d="M1955 457.500 L1971 467 L1955 476.500 Z" fill="#4f9d6e"/></svg>
<div class="r" style="left:1580px;top:445px;width:358px;height:44px;background:#fff;"></div>
<svg class="a" style="left:1582px;top:442.8px" width="48" height="48" viewBox="0 0 48 48"><defs><clipPath id="cm1606"><circle cx="24" cy="24" r="24"/></clipPath><filter id="bm1606" x="-20%" y="-20%" width="140%" height="140%"><feGaussianBlur stdDeviation="0.9"/></filter></defs><g clip-path="url(#cm1606)"><g filter="url(#bm1606)"><rect x="-4" y="-4" width="56" height="56" fill="#4b4a47"/>
<g fill="#77746c"><rect x="4" y="8" width="4" height="5"/><rect x="11" y="5" width="3" height="6"/><rect x="33" y="6" width="4" height="5"/><rect x="39" y="12" width="4" height="6"/><rect x="5" y="18" width="5" height="4"/><rect x="36" y="21" width="6" height="4"/><rect x="10" y="26" width="4" height="4"/><rect x="38" y="29" width="5" height="3"/><rect x="2" y="28" width="4" height="4"/></g>
<g fill="#35353a"><rect x="14" y="12" width="3" height="6"/><rect x="31" y="14" width="3" height="6"/><rect x="7" y="13" width="3" height="4"/></g>
<path d="M3 52 C4 36 12 31 24 31 C36 31 43 36 45 52 Z" fill="#8ea6c6"/>
<path d="M19 31 L24.500 36 L30 31 L28 28 H21 Z" fill="#4a4f63"/>
<ellipse cx="24.800" cy="19.500" rx="6.600" ry="8.300" fill="#c79f8a"/>
<path d="M17.800 17.500 C17.500 9 32 8.500 31.800 17.500 C30 13.500 27 12.500 24.800 12.500 C22 12.500 19.500 13.500 17.800 17.500Z" fill="#2b2523"/>
<path d="M21.500 23.500 q3.300 2.600 6.600 0 q-3.300 0.800 -6.600 0z" fill="#f3ece8"/>
<path d="M19.500 24 q5 6 10.500 0 q-1 4 -5.200 4.200 q-4 0 -5.300 -4.200z" fill="#7a5f55" opacity="0.55"/></g></g></svg>
<div class="r" style="left:1646.1000000000001px;top:454px;width:2.2px;height:25.69999999999999px;background:#1d2b52;"></div>
<span class="t" style="left:1669.00px;top:454px;line-height:27px;font-size:24.1px;color:#26282c;letter-spacing:0.571px;">Frontend Development</span>
<div class="r" style="left:1970px;top:445px;width:600px;height:44px;background:#f8cf9c;border-radius:7px;"></div>
<div class="r" style="left:2036px;top:509px;width:104px;height:44px;background:#fff;"></div>
<svg class="a" style="left:1957.5px;top:506.70000000000005px" width="48" height="48" viewBox="0 0 48 48"><defs><clipPath id="cf21981"><circle cx="24" cy="24" r="24"/></clipPath><filter id="bf21981" x="-20%" y="-20%" width="140%" height="140%"><feGaussianBlur stdDeviation="0.9"/></filter></defs><g clip-path="url(#cf21981)"><g filter="url(#bf21981)"><rect x="-4" y="-4" width="56" height="56" fill="#dfe0e3"/>
<rect x="36" y="13" width="9" height="4" fill="#c4a98b"/><rect x="4" y="16" width="5" height="3" fill="#c9c9cc"/>
<path d="M7 52 C9 36 13 10 25 8 C36 9 37 34 39 52 Z" fill="#5b4035"/>
<path d="M16 52 C17 42 20 38 25 38 C30 38 32 42 33 52 Z" fill="#e4d6cb"/>
<rect x="21.500" y="28" width="6" height="11" fill="#d9b39f"/>
<ellipse cx="24.600" cy="21.500" rx="6" ry="8.300" fill="#e0bba8"/>
<path d="M18.200 21 C18.500 11.500 31 11.500 31 21 C29.500 16 26.500 14 24.500 13.500 C22 14.500 19.500 17 18.200 21Z" fill="#5b4035"/>
<path d="M21.800 25.300 q2.800 2.200 5.600 0 q-2.800 0.600 -5.600 0z" fill="#fff"/></g></g></svg>
<div class="r" style="left:2021.5px;top:518.3px;width:2.2px;height:25.200000000000045px;background:#1d2b52;"></div>
<span class="t" style="left:2045.10px;top:518px;line-height:27px;font-size:24.1px;color:#26282c;letter-spacing:-0.149px;">Bug Fixing &amp; Iteration</span>
<div class="r" style="left:1373px;top:566px;width:327px;height:44px;background:#fff;"></div>
<svg class="a" style="left:1375px;top:564px" width="48" height="48" viewBox="0 0 48 48"><defs><clipPath id="cf11399"><circle cx="24" cy="24" r="24"/></clipPath><filter id="bf11399" x="-20%" y="-20%" width="140%" height="140%"><feGaussianBlur stdDeviation="0.9"/></filter></defs><g clip-path="url(#cf11399)"><g filter="url(#bf11399)"><rect x="-4" y="-4" width="56" height="56" fill="#dcdcdc"/>
<path d="M5 47 C3 28 8 3 25 2 C41 3 46 28 44 47 L35 50 L13 50 Z" fill="#4a362e"/>
<path d="M12 52 C14 43 19 40.500 25 40.500 C31 40.500 35 43 37 52 Z" fill="#37363b"/>
<rect x="21.500" y="30" width="7.500" height="11.500" fill="#d2a793"/>
<ellipse cx="25.500" cy="22" rx="7.700" ry="10.600" fill="#dcb4a0"/>
<path d="M17.300 21 C17.500 9.500 33.500 9.500 33.700 21 C32 16.500 29 13.500 25 12.500 C22 14 19 17 17.300 21Z" fill="#4a362e"/>
<path d="M21.800 26.800 q3.700 2.800 7.400 0 q-3.700 0.900 -7.400 0z" fill="#fff"/></g></g></svg>
<div class="r" style="left:1438.9px;top:579px;width:2.2px;height:18px;background:#1d2b52;"></div>
<span class="t" style="left:1462.00px;top:575px;line-height:27px;font-size:24.1px;color:#26282c;letter-spacing:0.374px;">Development Phase</span>
<div class="r" style="left:1730px;top:573px;width:1112px;height:30px;background:#ee96e2;border-radius:5px 0 0 5px;box-shadow:0 9px 11px -2px rgba(0,0,0,0.4);"></div>
<div class="r" style="left:1730px;top:573px;width:700px;height:30px;background:#f5c0ef;border-radius:5px;"></div>
<svg class="a" style="left:1730px;top:603px" width="12" height="16"><path d="M0 0 H9.500 L0 13 Z" fill="#ee96e2"/></svg>
<div class="r" style="left:1324px;top:637px;width:376px;height:44px;background:#fff;"></div>
<svg class="a" style="left:1326.4px;top:635px" width="48" height="48" viewBox="0 0 48 48"><defs><clipPath id="cg1350"><circle cx="24" cy="24" r="24"/></clipPath><filter id="bg1350" x="-20%" y="-20%" width="140%" height="140%"><feGaussianBlur stdDeviation="0.9"/></filter></defs><g clip-path="url(#cg1350)"><g filter="url(#bg1350)"><rect x="-4" y="-4" width="56" height="56" fill="#b9b2a8"/>
<rect x="-4" y="-4" width="56" height="20" fill="#e9dcc0"/>
<ellipse cx="13" cy="9" rx="15" ry="9" fill="#fff3cf"/>
<rect x="30" y="6" width="22" height="7" fill="#f3ead6"/>
<rect x="-4" y="28" width="56" height="26" fill="#a9a6a8"/>
<path d="M11 52 C12 30 13 11 24 10 C35 11 34 30 35 45 L30 45 L30 30 L17 30 L18 52 Z" fill="#33272a"/>
<path d="M14 52 C15 41 19 38 26 38 C36 38 42 42 43 52 Z" fill="#5e5a6e"/>
<rect x="21" y="30" width="6" height="9" fill="#c9a491"/>
<ellipse cx="24.500" cy="24" rx="6.300" ry="8" fill="#d6b09c"/>
<path d="M17.600 24 C17 13 32 13 31.500 24 C30.500 19 28 17.500 24.500 17.500 C21 17.500 18.500 19 17.600 24Z" fill="#33272a"/></g></g></svg>
<div class="r" style="left:1389.9px;top:647px;width:2.2px;height:25px;background:#1d2b52;"></div>
<span class="t" style="left:1413.00px;top:646px;line-height:27px;font-size:24.1px;color:#26282c;letter-spacing:0.641px;">Fix bug in checkout flow</span>
<div class="r" style="left:1730px;top:637px;width:180px;height:44px;background:#f19d3f;border-radius:7px;"></div>
<div class="r" style="left:1730px;top:637px;width:88px;height:44px;background:#f8c48c;border-radius:7px 4px 4px 7px;"></div>
<svg class="a" style="left:1871px;top:648px" width="20" height="22" viewBox="0 0 20 22"><path d="M6.500 5 L13 11 L6.500 17" fill="none" stroke="#fbd7ae" stroke-width="4" stroke-linecap="round" stroke-linejoin="round"/></svg>
<svg class="a" style="left:1870px;top:650px" width="80" height="90" viewBox="1870 650 80 90"><path d="M1910 659 H1940 V691 H1880 V723 H1898" fill="none" stroke="#4f9d6e" stroke-width="3.600"/><path d="M1896 713.500 L1912 723 L1896 732.500 Z" fill="#4f9d6e"/></svg>
<div class="r" style="left:1545px;top:701px;width:330px;height:44px;background:#fff;"></div>
<span class="t" style="left:1554.00px;top:710px;line-height:27px;font-size:24.1px;color:#26282c;letter-spacing:0.626px;">Refactor user settings page</span>
<svg class="a" style="left:1912px;top:695px" width="56" height="56" viewBox="-28 -28 56 56"><rect x="-17.600" y="-17.600" width="35.200" height="35.200" rx="4" transform="rotate(45)" fill="#2350c4"/></svg>
<svg class="a" style="left:1930px;top:715px" width="80" height="50" viewBox="1930 715 80 50"><path d="M1970 723 H2000 V755.500 H1940 V770" fill="none" stroke="#4f9d6e" stroke-width="3.600"/></svg>
</div></div>
</div></div>
<div class="r" style="left:2129px;top:87px;width:577px;height:532px;background:#70d066;border-radius:8px;box-shadow:0 0 2.5px 1.5px rgba(255,255,255,0.85),0 14px 16px -6px rgba(0,0,0,0.22)"></div>
<div class="r" style="left:2143px;top:101.5px;width:549px;height:504.5px;background:#fff;"></div>
<span class="t" style="left:2171.00px;top:144px;line-height:25px;font-size:21.6px;color:#4d4f55;letter-spacing:-0.077px;font-weight:bold;-webkit-text-stroke:0;">BASELINES</span>
<span class="t" style="left:2171.00px;top:206px;line-height:30px;font-size:27px;color:#26282c;letter-spacing:0.907px;">Week 20</span>
<span class="t" style="left:2171.00px;top:243px;line-height:25px;font-size:21.8px;color:#4b4d52;letter-spacing:0.718px;">Jan 16, 2026 10:58 AM</span>
<span class="t" style="left:2171.00px;top:309px;line-height:30px;font-size:27px;color:#26282c;letter-spacing:0.574px;">Week 27</span>
<span class="t" style="left:2171.00px;top:346px;line-height:25px;font-size:21.8px;color:#4b4d52;letter-spacing:0.718px;">Jan 16, 2026 10:56 AM</span>
<span class="t" style="left:2171.00px;top:413px;line-height:30px;font-size:27px;color:#26282c;letter-spacing:0.907px;">Week 26</span>
<span class="t" style="left:2171.00px;top:450px;line-height:25px;font-size:21.8px;color:#4b4d52;letter-spacing:0.718px;">Jan 16, 2026 12:43 AM</span>
<div class="r" style="left:2143px;top:506.5px;width:549px;height:3.2px;background:#dcdcdc;"></div>
<span class="t" style="left:2171.00px;top:546px;line-height:30px;font-size:27px;color:#26282c;letter-spacing:0.357px;">New Baseline</span>
</div></body></html>
